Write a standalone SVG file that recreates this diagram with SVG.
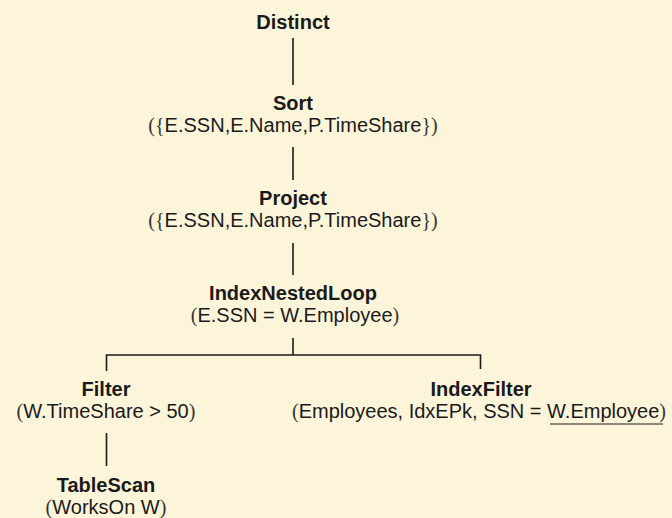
<svg xmlns="http://www.w3.org/2000/svg" width="672" height="518" viewBox="0 0 672 518">
<style>
.t{font-family:"Liberation Sans",Arial,sans-serif;font-size:20px;font-weight:bold;fill:#1a1a1a;text-anchor:middle}
.s{font-family:"Liberation Sans",Arial,sans-serif;font-size:20px;fill:#1a1a1a;text-anchor:middle}
.p{font-family:"Liberation Serif","Times New Roman",serif;font-weight:normal;fill:#333}
.c{stroke:#1a1a1a;stroke-width:1.6;fill:none}
</style>
<rect width="672" height="518" fill="#fdf5da"/>
<g id="connectors">
<line class="c" x1="293" y1="38" x2="293" y2="85"/>
<line class="c" x1="293" y1="147" x2="293" y2="180"/>
<line class="c" x1="293" y1="243" x2="293" y2="275"/>
<polyline class="c" points="293,338 293,355"/>
<polyline class="c" points="106.5,371 106.5,355 480.5,355 480.5,369"/>
<line class="c" x1="106.5" y1="433" x2="106.5" y2="466"/>
</g>
<g id="distinct"><text class="t" x="293" y="29">Distinct</text></g>
<g id="sort"><text class="t" x="293" y="110">Sort</text>
<text class="s" x="293" y="132"><tspan class="p">(</tspan><tspan class="p">{</tspan>E.SSN,E.Name,P.TimeShare<tspan class="p">}</tspan><tspan class="p">)</tspan></text></g>
<g id="project"><text class="t" x="293" y="205">Project</text>
<text class="s" x="293" y="227"><tspan class="p">(</tspan><tspan class="p">{</tspan>E.SSN,E.Name,P.TimeShare<tspan class="p">}</tspan><tspan class="p">)</tspan></text></g>
<g id="indexnestedloop"><text class="t" x="293" y="300">IndexNestedLoop</text>
<text class="s" x="295" y="322"><tspan class="p">(</tspan>E.SSN = W.Employee<tspan class="p">)</tspan></text></g>
<g id="filter"><text class="t" x="106" y="396">Filter</text>
<text class="s" x="106" y="418"><tspan class="p">(</tspan>W.TimeShare &gt; 50<tspan class="p">)</tspan></text></g>
<g id="tablescan"><text class="t" x="106" y="492">TableScan</text>
<text class="s" x="106" y="514"><tspan class="p">(</tspan>WorksOn W<tspan class="p">)</tspan></text></g>
<g id="indexfilter"><text class="t" x="481" y="396">IndexFilter</text>
<text class="s" x="479" y="418"><tspan class="p">(</tspan>Employees, IdxEPk, SSN = W.Employee<tspan class="p">)</tspan></text>
<line x1="550" y1="424" x2="663" y2="424" stroke="#1a1a1a" stroke-width="1"/></g>
</svg>
